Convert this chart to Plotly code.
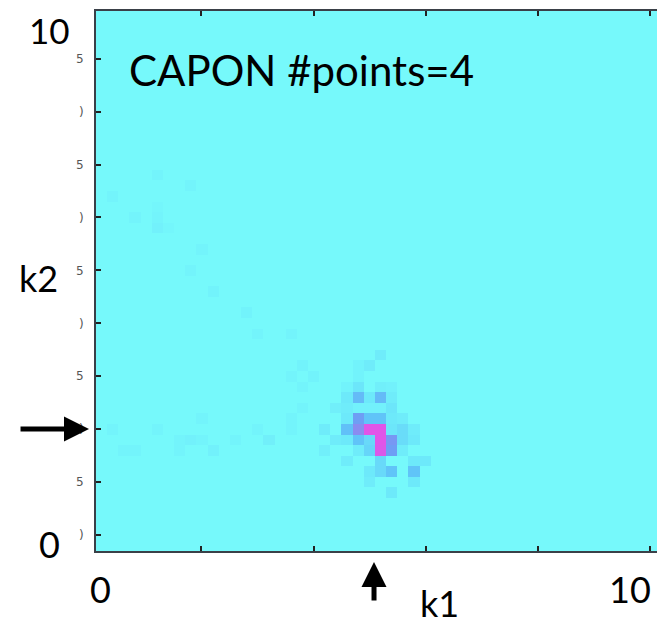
import numpy as np
import plotly.graph_objects as go

# grid size (k1 columns x k2 rows)
n_cols = 51
n_rows = 51

# sparse spectrum values: column index, row index (from top), normalized power
cell_cols = [5, 8, 1, 3, 5, 5, 5, 6, 9, 8, 10, 13, 14, 17, 18, 17, 19, 18, 18, 17, 9,
             1, 5, 14, 17, 7, 8, 9, 12, 15, 2, 3, 7, 10,
             25, 24, 23, 23,
             22, 23, 25, 26,
             22, 23, 24, 25, 26,
             21, 22, 23, 24, 25, 26,
             22, 23, 24, 25, 26, 27,
             20, 22, 23, 24, 25, 26, 27, 28,
             21, 22, 23, 24, 25, 26, 27, 28,
             20, 23, 24, 25, 26, 27,
             22, 25, 28, 29,
             24, 25, 26, 28,
             24, 28,
             26]
cell_rows = [15, 16, 17, 19, 18, 19, 20, 20, 22, 24, 26, 28, 30, 30, 33, 34, 34, 35, 37, 38, 38,
             39, 39, 39, 39, 40, 40, 40, 40, 40, 41, 41, 41, 41,
             32, 33, 33, 34,
             35, 35, 35, 35,
             36, 36, 36, 36, 36,
             37, 37, 37, 37, 37, 37,
             38, 38, 38, 38, 38, 38,
             39, 39, 39, 39, 39, 39, 39, 39,
             40, 40, 40, 40, 40, 40, 40, 40,
             41, 41, 41, 41, 41, 41,
             42, 42, 42, 42,
             43, 43, 43, 43,
             44, 44,
             45]
cell_vals = [0.03, 0.03, 0.03, 0.03, 0.02, 0.03, 0.05, 0.02, 0.03, 0.03, 0.04, 0.04, 0.03, 0.03, 0.04, 0.03, 0.04, 0.03, 0.03, 0.03, 0.03,
             0.03, 0.03, 0.03, 0.03, 0.03, 0.05, 0.03, 0.03, 0.06, 0.03, 0.03, 0.03, 0.05,
             0.08, 0.08, 0.04, 0.04,
             0.04, 0.12, 0.06, 0.05,
             0.10, 0.35, 0.10, 0.35, 0.08,
             0.06, 0.08, 0.05, 0.05, 0.05, 0.12,
             0.10, 0.50, 0.30, 0.30, 0.10, 0.08,
             0.08, 0.32, 0.65, 1.00, 1.00, 0.12, 0.18, 0.08,
             0.08, 0.10, 0.30, 0.20, 1.00, 0.55, 0.18, 0.10,
             0.06, 0.08, 0.22, 0.98, 0.50, 0.08,
             0.08, 0.20, 0.10, 0.10,
             0.10, 0.20, 0.30, 0.30,
             0.08, 0.10,
             0.10]

y_tick_vals = [1, 6, 11, 16, 21, 26, 31, 36, 41, 46]
y_tick_text = [")", "5", ")", "5", ")", "5", ")", "5", ")", "5"]
x_tick_vals = [8.9, 19.0, 29.05, 39.1, 49.15]

z = np.zeros((n_rows, n_cols))
for c, r, v in zip(cell_cols, cell_rows, cell_vals):
    z[n_rows - 1 - r, c] = v

colorscale = [
    [0.0, "#76F9FB"],
    [0.1, "#6DE9FA"],
    [0.2, "#68D9F9"],
    [0.3, "#60C4F8"],
    [0.5, "#6E9EF4"],
    [0.65, "#8A8CF0"],
    [1.0, "#E055E8"],
]

fig = go.Figure(go.Heatmap(
    z=z, x=list(range(n_cols)), y=list(range(n_rows)),
    colorscale=colorscale, zmin=0, zmax=1, showscale=False,
    hoverinfo="skip",
))

OFF = 8  # page body margin
W, H = 657, 618
L, R, T, B = 88, 0, 3, 75
pw, ph = W - L - R, H - T - B


def px(xw):
    return (xw - OFF - L) / pw


def py(yw):
    return (H - B - (yw - OFF)) / ph


axis_color = "#3a4048"
fig.update_xaxes(range=[-0.5, 50.3], showgrid=False, zeroline=False,
                 showline=True, linecolor=axis_color, linewidth=2, mirror="ticks",
                 ticks="inside", ticklen=5, tickwidth=1.5, tickcolor="#222",
                 tickvals=x_tick_vals, showticklabels=False)
fig.update_yaxes(range=[-0.5, 50.5], showgrid=False, zeroline=False,
                 showline=True, linecolor=axis_color, linewidth=2, mirror="ticks",
                 ticks="inside", ticklen=5, tickwidth=1.5, tickcolor="#222",
                 tickvals=y_tick_vals, ticktext=y_tick_text, ticklabelstandoff=8,
                 tickfont=dict(family="DejaVu Sans", size=12, color="#555"))

font_main = "Lato, Open Sans, sans-serif"
texts = [
    ("10", 49, 30, 35, "center"),
    ("0", 49, 544, 36, "center"),
    ("k2", 38, 278, 36, "center"),
    ("0", 101, 589, 36, "center"),
    ("10", 632, 589, 36, "center"),
    ("k1", 441, 603, 36, "center"),
    ("CAPON #points=4", 127, 70, 42, "left"),
]
annotations = []
for t, xw_, yw_, fs, anchor in texts:
    annotations.append(dict(text=t, x=px(xw_), y=py(yw_), xref="paper", yref="paper",
                            xanchor=anchor, yanchor="middle", showarrow=False,
                            font=dict(family=font_main, size=fs, color="black")))
# arrows
annotations.append(dict(text="", x=px(89), y=py(429), xref="paper", yref="paper",
                        ax=-70, ay=0, showarrow=True, arrowhead=2, arrowsize=1,
                        arrowwidth=5, arrowcolor="black"))
annotations.append(dict(text="", x=px(375), y=py(562), xref="paper", yref="paper",
                        ax=0, ay=40, showarrow=True, arrowhead=2, arrowsize=1,
                        arrowwidth=5, arrowcolor="black"))

fig.update_layout(width=W, height=H, margin=dict(l=L, r=R, t=T, b=B, pad=0),
                  paper_bgcolor="white", plot_bgcolor="white",
                  annotations=annotations)

fig.write_html("out.html")
